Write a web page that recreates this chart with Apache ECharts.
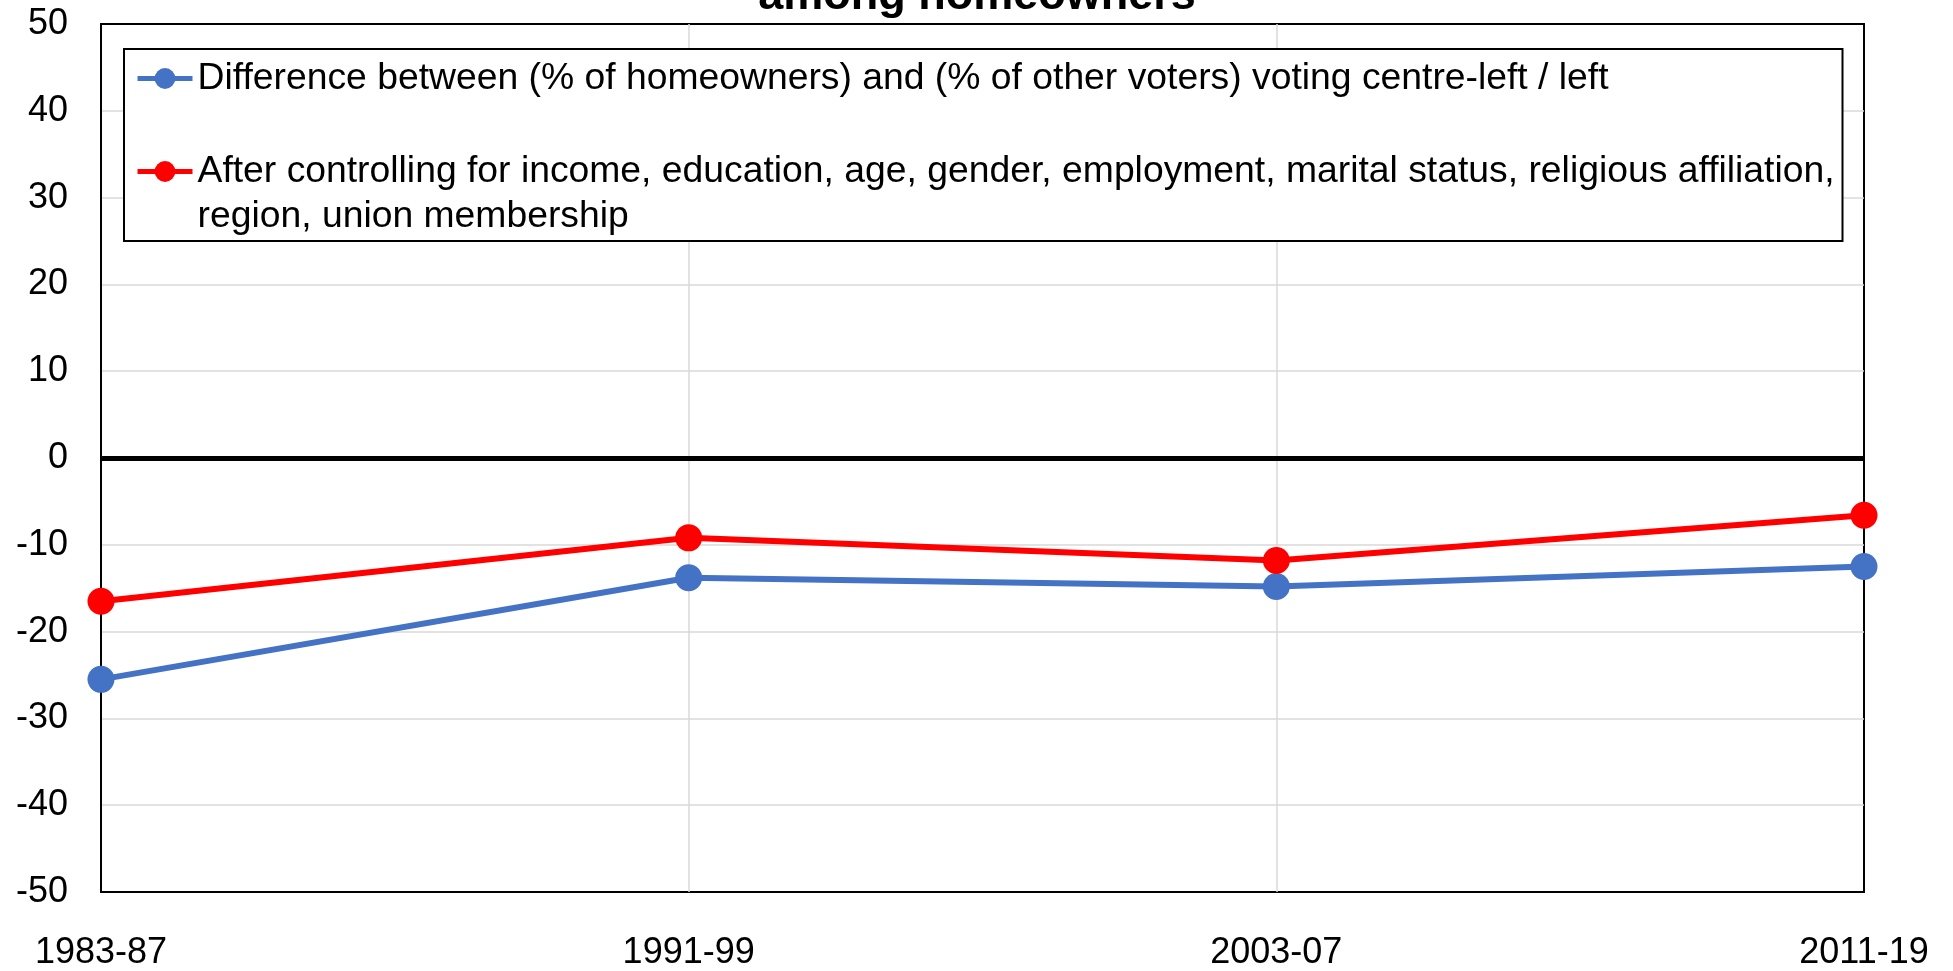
<!DOCTYPE html>
<html>
<head>
<meta charset="utf-8">
<script src="https://cdn.jsdelivr.net/npm/echarts@6/dist/echarts.min.js"></script>
<style>html,body{margin:0;padding:0;background:#fff;width:100%;height:100%;overflow:hidden;}#chart{width:100vw;height:100vh;}</style>
</head>
<body>
<div id="chart"></div>
<script>
const categories = ['1983-87', '1991-99', '2003-07', '2011-19'];
const seriesNames = [
  'Difference between (% of homeowners) and (% of other voters) voting centre-left / left',
  'After controlling for income, education, age, gender, employment, marital status, religious affiliation,\nregion, union membership'
];
const rawDifference = [-25.5, -13.8, -14.8, -12.5];
const controlledDifference = [-16.5, -9.2, -11.8, -6.6];
const titleText = 'among homeowners';

const FONT = '"Liberation Sans", Arial, sans-serif';
const chart = echarts.init(document.getElementById('chart'), null, {renderer: 'canvas'});
chart.setOption({
  animation: false,
  backgroundColor: '#ffffff',
  title: {
    text: titleText,
    left: 972,
    textAlign: 'center',
    top: -31,
    textStyle: {fontFamily: FONT, fontSize: 45, fontWeight: 'bold', color: '#000'}
  },
  grid: {
    left: 101, right: 89, top: 24, bottom: 72,
    show: true, borderColor: '#000', borderWidth: 2, containLabel: false
  },
  legend: {
    orient: 'vertical',
    left: 124, top: 49,
    padding: [7, 5, 2, 11],
    itemGap: 3,
    itemWidth: 55,
    itemHeight: 26,
    borderColor: '#000', borderWidth: 2,
    backgroundColor: '#fff',
    align: 'left',
    lineStyle: {width: 5},
    formatter: function (name) { return name === seriesNames[1] ? '\n' + name : name; },
    textStyle: {fontFamily: FONT, fontSize: 37.3, color: '#000', lineHeight: 45, width: 1640, overflow: 'none'},
    data: [seriesNames[0], seriesNames[1]]
  },
  xAxis: {
    type: 'category',
    data: categories,
    boundaryGap: false,
    axisLine: {show: true, lineStyle: {color: '#000', width: 2}},
    axisTick: {show: false},
    axisLabel: {fontFamily: FONT, fontSize: 36, color: '#000', margin: 43},
    splitLine: {show: true, showMinLine: false, showMaxLine: false, lineStyle: {color: '#d9d9d9', width: 1.5}}
  },
  yAxis: {
    type: 'value',
    min: -50, max: 50, interval: 10,
    axisLine: {show: true, lineStyle: {color: '#000', width: 2}},
    axisTick: {show: false},
    axisLabel: {fontFamily: FONT, fontSize: 36, color: '#000', margin: 33},
    splitLine: {show: true, showMinLine: false, showMaxLine: false, lineStyle: {color: '#d9d9d9', width: 1.5}}
  },
  series: [
    {
      name: seriesNames[0],
      type: 'line',
      data: rawDifference,
      color: '#4472C4',
      symbol: 'circle',
      symbolSize: 27,
      lineStyle: {width: 6, color: '#4472C4'},
      itemStyle: {color: '#4472C4'},
      z: 3,
      markLine: {
        silent: true,
        symbol: 'none',
        label: {show: false},
        lineStyle: {color: '#000', width: 5, type: 'solid'},
        data: [{yAxis: 0}]
      }
    },
    {
      name: seriesNames[1],
      type: 'line',
      data: controlledDifference,
      color: '#FF0000',
      symbol: 'circle',
      symbolSize: 27,
      lineStyle: {width: 6, color: '#FF0000'},
      itemStyle: {color: '#FF0000'},
      z: 4
    }
  ]
});
</script>
</body>
</html>
